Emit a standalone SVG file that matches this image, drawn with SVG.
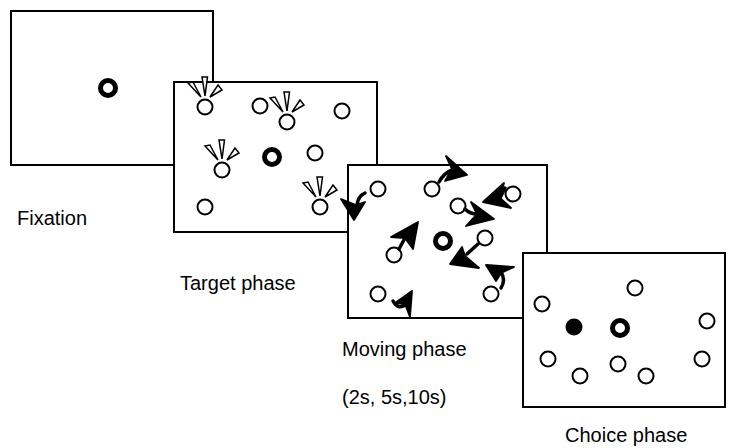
<svg xmlns="http://www.w3.org/2000/svg" xmlns:xlink="http://www.w3.org/1999/xlink" width="729" height="448" viewBox="0 0 729 448">
<style>
.frame{fill:#fff;stroke:#000;stroke-width:2}
.c{fill:#fff;stroke:#000;stroke-width:2}
.ring{fill:#fff;stroke:#000;stroke-width:5}
.dot{fill:#000}
.fan{fill:#fff;stroke:#000;stroke-width:1.5;stroke-linejoin:miter}
.head{fill:#000;stroke:#000;stroke-width:1.8;stroke-linejoin:round}
.tail{fill:none;stroke:#000;stroke-width:3.5;stroke-linecap:round}
.lbl{font-family:"Liberation Sans",Arial,sans-serif;font-size:20px;fill:#000}
</style>
<defs>
<g id="target">
<polygon class="fan" points="-17,-24 -12,-25 -4,-10"/>
<polygon class="fan" points="-3,-30 2.5,-30 0,-11"/>
<polygon class="fan" points="13,-22 17,-17 5,-10"/>
<circle class="c" cx="0" cy="0" r="7.5"/>
</g>
</defs>

<g id="fixation-frame">
<rect class="frame" x="11" y="11" width="202" height="154"/>
<circle class="ring" cx="108" cy="88" r="7.5"/>
</g>

<g id="target-frame">
<rect class="frame" x="174" y="82" width="203" height="150"/>
<use xlink:href="#target" x="205" y="107"/>
<circle class="c" cx="260" cy="106" r="7.5"/>
<use xlink:href="#target" x="287" y="122"/>
<circle class="c" cx="342" cy="111" r="7.5"/>
<use xlink:href="#target" x="222" y="170"/>
<circle class="ring" cx="272" cy="157" r="7.5"/>
<circle class="c" cx="315" cy="153" r="7.5"/>
<circle class="c" cx="205" cy="207" r="7.5"/>
<use xlink:href="#target" x="320" y="207"/>
</g>

<g id="moving-frame">
<rect class="frame" x="348" y="165" width="199" height="153"/>
<circle class="c" cx="378" cy="189" r="7.5"/>
<circle class="c" cx="432" cy="189" r="7.5"/>
<circle class="c" cx="458" cy="206" r="7.5"/>
<circle class="c" cx="513" cy="194" r="7.5"/>
<circle class="ring" cx="443" cy="241" r="7.5"/>
<circle class="c" cx="485" cy="238" r="7.5"/>
<circle class="c" cx="394" cy="255" r="7.5"/>
<circle class="c" cx="378" cy="294" r="7.5"/>
<circle class="c" cx="491" cy="294" r="7.5"/>
</g>

<g id="motion-arrows">
<path class="tail" d="M439,182 Q444,173 452,170"/>
<polygon class="head" points="467,175 446,156 452,169 445,181"/>
<path class="tail" d="M500,198 Q503,192 505,188"/>
<polygon class="head" points="483,202 504,183 500,198 511,208"/>
<path class="tail" d="M465,209 Q470,214 477,214"/>
<polygon class="head" points="494,219 471,202 477,214 466,226"/>
<path class="tail" d="M399,249 L405,238"/>
<polygon class="head" points="418,222 391,237 405,238 413,249"/>
<path class="tail" d="M478,244 L467,254"/>
<polygon class="head" points="450,264 462,247 465,256 479,268"/>
<path class="tail" d="M501,272 Q506,280 501,288"/>
<polygon class="head" points="486,265 514,267 501,273 496,281"/>
<path class="tail" d="M393,301 Q398,310 405,305"/>
<polygon class="head" points="412,291 395,303 405,304 410,317"/>
<path class="tail" d="M357,205 Q358,196 365,193"/>
<polygon class="head" points="354,220 341,199 356,205 365,202"/>
</g>

<g id="choice-frame">
<rect class="frame" x="523" y="253" width="202" height="154"/>
<circle class="c" cx="635" cy="288" r="7.5"/>
<circle class="c" cx="542" cy="304" r="7.5"/>
<circle class="dot" cx="574" cy="327" r="8.5"/>
<circle class="ring" cx="620" cy="328" r="7.5"/>
<circle class="c" cx="707" cy="321" r="7.5"/>
<circle class="c" cx="548" cy="359" r="7.5"/>
<circle class="c" cx="580" cy="376" r="7.5"/>
<circle class="c" cx="618" cy="364" r="7.5"/>
<circle class="c" cx="646" cy="376" r="7.5"/>
<circle class="c" cx="702" cy="359" r="7.5"/>
</g>

<g id="labels">
<text class="lbl" x="17" y="225">Fixation</text>
<text class="lbl" x="180" y="290">Target phase</text>
<text class="lbl" x="342" y="356">Moving phase</text>
<text class="lbl" x="342" y="404">(2s, 5s,10s)</text>
<text class="lbl" x="565" y="442">Choice phase</text>
</g>
</svg>
